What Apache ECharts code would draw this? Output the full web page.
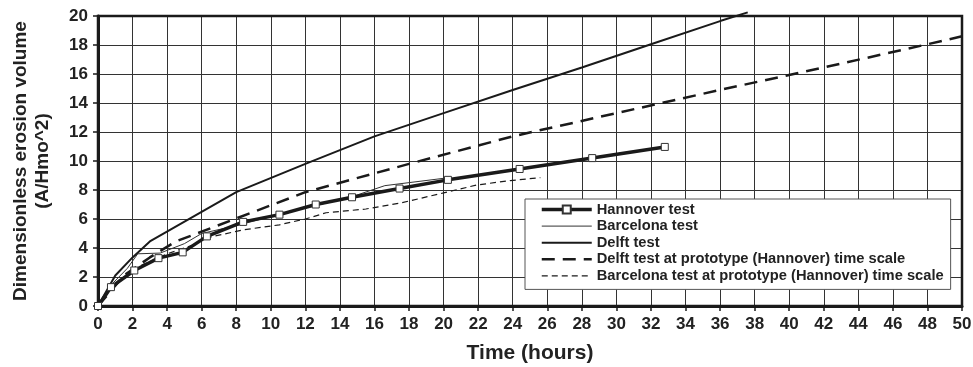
<!DOCTYPE html>
<html>
<head>
<meta charset="utf-8">
<script src="https://cdn.jsdelivr.net/npm/echarts@6/dist/echarts.min.js"></script>
<style>
	html, body {margin: 0; padding: 0; background: #fff;}
	#chart {width: 973px; height: 367px;}
</style>
</head>
<body>
<div id="chart"></div>
<script>
// values (hours / A/Hmo^2)
var hannoverHours = [0, 0.75, 2.1, 3.5, 4.9, 6.3, 8.4, 10.5, 12.6, 14.7, 17.45, 20.25, 24.4, 28.6, 32.8];
var hannoverValues = [0, 1.3, 2.45, 3.3, 3.7, 4.8, 5.8, 6.3, 7.0, 7.5, 8.1, 8.7, 9.45, 10.2, 10.97];

var barcelonaHours = [0, 0.8, 1.7, 2.3, 3.6, 5.0, 6.0, 8.2, 10.4, 12.5, 14.6, 16.6, 20.3];
var barcelonaValues = [0, 1.5, 2.6, 3.6, 3.65, 4.3, 5.0, 5.6, 6.3, 6.9, 7.5, 8.3, 8.85];

var delftHours = [0, 1, 2, 3, 8, 12, 16, 20, 24, 28, 32, 36, 37.6];
var delftValues = [0, 2.1, 3.35, 4.45, 7.85, 9.8, 11.7, 13.3, 14.9, 16.45, 18.05, 19.65, 20.25];

var delftProtoHours = [0, 1.5, 3, 4.5, 12, 18, 24, 30, 36, 42, 48, 50];
var delftProtoValues = [0, 2.1, 3.35, 4.45, 7.85, 9.8, 11.7, 13.3, 14.9, 16.45, 18.05, 18.6];

var barcelonaProtoHours = [0, 1, 2.5, 4, 5.5, 6.3, 8.4, 10.5, 12, 13.2, 15.5, 17.5, 20, 21.9, 23.85, 25.6];
var barcelonaProtoValues = [0, 1.5, 2.8, 3.6, 4.2, 4.7, 5.25, 5.6, 6.0, 6.43, 6.69, 7.1, 7.8, 8.34, 8.65, 8.85];

var seriesNames = [
	"Hannover test",
	"Barcelona test",
	"Delft test",
	"Delft test at prototype (Hannover) time scale",
	"Barcelona test at prototype (Hannover) time scale"
];

var xTicks = {min: 0, max: 50, interval: 2};
var yTicks = {min: 0, max: 20, interval: 2};

var pairs = function(xs, ys){
	var out = [];
	for(var i = 0; i < xs.length; i++){
		out.push([xs[i], ys[i]]);
	}
	return out;
}

var FONT = "Liberation Sans, Arial, sans-serif";

// line looks, same order as seriesNames
var lineStyles = [
	{color: "#1a1a1a", width: 3.5},
	{color: "#333", width: 1},
	{color: "#1a1a1a", width: 2},
	{color: "#1a1a1a", width: 2.5, type: [13, 8]},
	{color: "#1a1a1a", width: 1.2, type: [6, 4]}
];

var makeLine = function(idx, data, extra){
	var style = lineStyles[idx];
	var s = {
		name: seriesNames[idx],
		type: "line",
		data: data,
		symbol: "none",
		clip: false,
		animation: false,
		lineStyle: style,
		itemStyle: {color: style.color}
	};
	for(var k in extra){ s[k] = extra[k]; }
	return s;
}

// legend entries: only Hannover keeps its marker, widths as in the plot
var legendData = [];
for(var n = 0; n < seriesNames.length; n++){
	var item = {name: seriesNames[n], lineStyle: {width: lineStyles[n].width}};
	if(n != 0){
		item.itemStyle = {color: "rgba(0,0,0,0)", borderColor: "rgba(0,0,0,0)", borderWidth: 0};
	}
	legendData.push(item);
}

var chart = echarts.init(document.getElementById("chart"));

var option = {
	backgroundColor: "#fff",
	animation: false,
	grid: {left: 98, right: 11, top: 16, bottom: 61, outerBoundsMode: "none", containLabel: false},
	legend: {
		orient: "vertical",
		left: 525,
		top: 199,
		padding: [3, 7, 6, 15],
		itemWidth: 50,
		itemHeight: 10,
		itemGap: 1.6,
		backgroundColor: "#fff",
		borderColor: "#555",
		borderWidth: 1,
		textStyle: {fontFamily: FONT, fontWeight: "bold", fontSize: 14.7, lineHeight: 15, color: "#222"},
		data: legendData
	},
	xAxis: {
		type: "value",
		min: xTicks.min,
		max: xTicks.max,
		interval: xTicks.interval,
		name: "Time (hours)",
		nameLocation: "middle",
		nameGap: 37,
		nameTextStyle: {fontFamily: FONT, fontWeight: "bold", fontSize: 21, color: "#222"},
		axisLine: {lineStyle: {color: "#1a1a1a", width: 3}},
		axisTick: {show: true, length: 5, lineStyle: {color: "#1a1a1a", width: 1.5}},
		axisLabel: {fontFamily: FONT, fontWeight: "bold", fontSize: 17, color: "#222", margin: 10},
		splitLine: {show: true, lineStyle: {color: "#333", width: 1}}
	},
	yAxis: {
		type: "value",
		min: yTicks.min,
		max: yTicks.max,
		interval: yTicks.interval,
		name: "Dimensionless erosion volume\n(A/Hmo^2)",
		nameLocation: "middle",
		nameGap: 44,
		nameTextStyle: {fontFamily: FONT, fontWeight: "bold", fontSize: 19, color: "#222", lineHeight: 22},
		axisLine: {show: true, lineStyle: {color: "#1a1a1a", width: 3}},
		axisTick: {show: true, length: 5, lineStyle: {color: "#1a1a1a", width: 1.5}},
		axisLabel: {fontFamily: FONT, fontWeight: "bold", fontSize: 17, color: "#222", margin: 10},
		splitLine: {show: true, lineStyle: {color: "#333", width: 1}}
	},
	series: [
		makeLine(2, pairs(delftHours, delftValues)),
		makeLine(3, pairs(delftProtoHours, delftProtoValues)),
		makeLine(4, pairs(barcelonaProtoHours, barcelonaProtoValues)),
		makeLine(1, pairs(barcelonaHours, barcelonaValues)),
		makeLine(0, pairs(hannoverHours, hannoverValues), {
			symbol: "rect",
			symbolSize: 7,
			showSymbol: true,
			itemStyle: {color: "#fff", borderColor: "#333", borderWidth: 1}
		})
	],
	// frame round the plot (top / right borders)
	graphic: [
		{type: "rect", shape: {x: 98, y: 16, width: 864, height: 290}, style: {fill: null, stroke: "#1a1a1a", lineWidth: 2.5}, silent: true, z: 1}
	]
};

chart.setOption(option);
console.log("chart done");
</script>
</body>
</html>
